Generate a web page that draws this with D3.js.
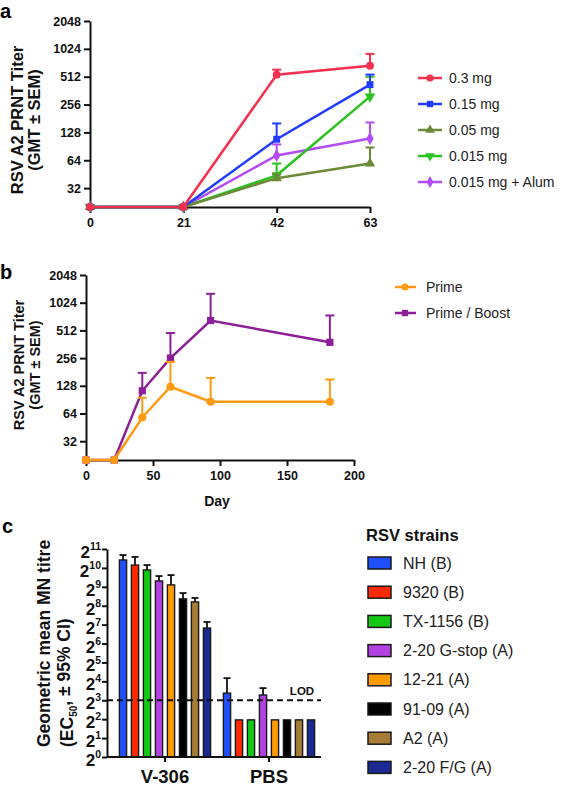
<!DOCTYPE html>
<html><head><meta charset="utf-8">
<script src="https://cdn.jsdelivr.net/npm/d3@7/dist/d3.min.js"></script>
<style>
body{margin:0;background:#fff;}
svg{display:block;font-family:"Liberation Sans",Arial,Helvetica,sans-serif;}
</style></head><body>
<svg id="chart" width="562" height="790"></svg>
<script>
// ---------- Panel a data ----------
const daysA = [0, 21, 42, 63];
const seriesA = ["0.3 mg", "0.15 mg", "0.05 mg", "0.015 mg", "0.015 mg + Alum"];
const gmtA_03 = [20, 20, 538, 673];
const errA_03 = [null, null, 610, 903];
const gmtA_015 = [20, 20, 108, 420];
const errA_015 = [null, null, 160, 540];
const gmtA_005 = [20, 20, 41, 59];
const errA_005 = [null, null, 45, 88];
const gmtA_0015 = [20, 20, 44, 312];
const errA_0015 = [null, null, 59, 512];
const gmtA_alum = [20, 20, 72, 110];
const errA_alum = [null, null, 95, 164];
const ticksA_y = [32, 64, 128, 256, 512, 1024, 2048];

// ---------- Panel b data ----------
const daysB = [0, 21, 42, 63, 93, 182];
const seriesB = ["Prime", "Prime / Boost"];
const gmtB_prime = [20, 20, 58, 125, 86, 86];
const errB_prime = [null, null, 95, 233, 156, 150];
const gmtB_boost = [20, 20, 113, 256, 656, 380];
const errB_boost = [null, null, 177, 480, 1280, 744];
const ticksB_x = [0, 50, 100, 150, 200];

// ---------- Panel c data ----------
const groupsC = ["V-306", "PBS"];
const strainsC = ["NH (B)", "9320 (B)", "TX-1156 (B)", "2-20 G-stop (A)", "12-21 (A)", "91-09 (A)", "A2 (A)", "2-20 F/G (A)"];
const meanV306 = [1370, 1136, 949, 635, 549, 329, 294, 113];
const upperV306 = [1640, 1530, 1136, 760, 787, 407, 340, 141];
const meanPBS = [10.4, 3.9, 3.9, 9.7, 3.9, 3.9, 3.9, 3.9];
const upperPBS = [18, null, null, 12.5, null, null, null, null];
const exponentsC = [0, 1, 2, 3, 4, 5, 6, 7, 8, 9, 10, 11];
const lodC = 8;

// ---------- styles ----------
const colorsA = ["#f4304f", "#1f3cff", "#6b8a36", "#2bc21e", "#b34cf2"];
const symbolsA = [d3.symbolCircle, d3.symbolSquare, d3.symbolTriangle, d3.symbolTriangle, d3.symbolDiamond];
const rotA = [0, 0, 0, 180, 0];
const colorsB = ["#ff9a12", "#8c1f98"];
const symbolsB = [d3.symbolCircle, d3.symbolSquare];
const colorsC = ["#1e50ff", "#ff2a00", "#12c812", "#b242e2", "#ff9a00", "#000000", "#a67c36", "#1a2a92"];
const FONT = '"Liberation Sans",Arial,Helvetica,sans-serif';

const svg = d3.select("#chart");

function styleAxis(g, fs) {
  g.selectAll("path.domain").attr("stroke", "#111").attr("stroke-width", 2);
  g.selectAll(".tick line").attr("stroke", "#111").attr("stroke-width", 2);
  g.selectAll(".tick text").attr("font-family", FONT).attr("font-weight", "bold")
    .attr("font-size", fs).attr("fill", "#111");
}

function drawLinePanel(opts) {
  const {x, y, days, gmts, errs, colors, symbols, rots, g} = opts;
  const line = d3.line().x((d, i) => x(days[i])).y(d => y(d));
  for (let s = gmts.length - 1; s >= 0; s--) {
    const col = colors[s];
    const sg = g.append("g");
    errs[s].forEach((e, i) => {
      if (e == null) return;
      const cx = x(days[i]);
      sg.append("line").attr("x1", cx).attr("x2", cx).attr("y1", y(gmts[s][i])).attr("y2", y(e))
        .attr("stroke", col).attr("stroke-width", 2);
      sg.append("line").attr("x1", cx - 4.5).attr("x2", cx + 4.5).attr("y1", y(e)).attr("y2", y(e))
        .attr("stroke", col).attr("stroke-width", 2);
    });
    sg.append("path").datum(gmts[s]).attr("d", line).attr("fill", "none")
      .attr("stroke", col).attr("stroke-width", 2.5);
    sg.selectAll("path.pt").data(gmts[s]).join("path").attr("class", "pt")
      .attr("d", d3.symbol().type(symbols[s]).size(opts.symSize || 48))
      .attr("transform", (d, i) => `translate(${x(days[i])},${y(d)}) rotate(${rots ? rots[s] : 0})`)
      .attr("fill", col);
  }
}

function yLabel(g, xs, cy, lines, fs) {
  lines.forEach((t, i) => {
    g.append("text").attr("transform", `translate(${xs[i]},${cy}) rotate(-90)`)
      .attr("text-anchor", "middle").attr("font-family", FONT).attr("font-weight", "bold")
      .attr("font-size", fs).attr("fill", "#111").text(t);
  });
}

// ================= Panel a =================
{
  const g = svg.append("g");
  const x = d3.scaleLinear().domain([0, 63]).range([90, 370]);
  const y = d3.scaleLog().base(2).domain([20, 2048]).range([207, 21]);
  g.append("g").attr("transform", "translate(0,207)")
    .call(d3.axisBottom(x).tickValues(daysA).tickFormat(d3.format("d")).tickSize(6).tickSizeOuter(0).tickPadding(5))
    .call(a => styleAxis(a, 12.5));
  g.append("g").attr("transform", "translate(90,0)")
    .call(d3.axisLeft(y).tickValues(ticksA_y).tickFormat(d3.format("d")).tickSize(6).tickSizeOuter(0).tickPadding(3))
    .call(a => styleAxis(a, 12.5));
  drawLinePanel({x, y, days: daysA, g,
    gmts: [gmtA_03, gmtA_015, gmtA_005, gmtA_0015, gmtA_alum],
    errs: [errA_03, errA_015, errA_005, errA_0015, errA_alum],
    colors: colorsA, symbols: symbolsA, rots: rotA});
  yLabel(g, [23, 40], 120, ["RSV A2 PRNT Titer", "(GMT ± SEM)"], 16.5);
  g.append("text").attr("x", 0).attr("y", 18).attr("font-family", FONT).attr("font-weight", "bold")
    .attr("font-size", 20).text("a");
  const lg = g.append("g");
  seriesA.forEach((s, i) => {
    const ly = 78 + i * 26;
    lg.append("line").attr("x1", 418).attr("x2", 442).attr("y1", ly).attr("y2", ly)
      .attr("stroke", colorsA[i]).attr("stroke-width", 2.5);
    lg.append("path").attr("d", d3.symbol().type(symbolsA[i]).size(40))
      .attr("transform", `translate(430,${ly}) rotate(${rotA[i]})`).attr("fill", colorsA[i]);
    lg.append("text").attr("x", 449).attr("y", ly + 5).attr("font-family", FONT)
      .attr("font-size", 14).attr("fill", "#222").text(s);
  });
}

// ================= Panel b =================
{
  const g = svg.append("g");
  const x = d3.scaleLinear().domain([0, 200]).range([86, 354]);
  const y = d3.scaleLog().base(2).domain([20, 2048]).range([460, 275]);
  g.append("g").attr("transform", "translate(0,460)")
    .call(d3.axisBottom(x).tickValues(ticksB_x).tickFormat(d3.format("d")).tickSize(6).tickSizeOuter(0).tickPadding(5))
    .call(a => styleAxis(a, 12.5));
  g.append("g").attr("transform", "translate(86,0)")
    .call(d3.axisLeft(y).tickValues(ticksA_y).tickFormat(d3.format("d")).tickSize(6).tickSizeOuter(0).tickPadding(3))
    .call(a => styleAxis(a, 12.5));
  drawLinePanel({x, y, days: daysB, g,
    gmts: [gmtB_prime, gmtB_boost], errs: [errB_prime, errB_boost],
    colors: colorsB, symbols: symbolsB, rots: [0, 0], symSize: 52});
  yLabel(g, [24, 40], 365, ["RSV A2  PRNT Titer", "(GMT ± SEM)"], 14.5);
  g.append("text").attr("x", 0).attr("y", 279).attr("font-family", FONT).attr("font-weight", "bold")
    .attr("font-size", 20).text("b");
  g.append("text").attr("x", 217).attr("y", 506).attr("text-anchor", "middle").attr("font-family", FONT)
    .attr("font-weight", "bold").attr("font-size", 14).attr("fill", "#111").text("Day");
  const lg = g.append("g");
  seriesB.forEach((s, i) => {
    const ly = 287 + i * 26;
    lg.append("line").attr("x1", 395).attr("x2", 416).attr("y1", ly).attr("y2", ly)
      .attr("stroke", colorsB[i]).attr("stroke-width", 2.5);
    lg.append("path").attr("d", d3.symbol().type(symbolsB[i]).size(40))
      .attr("transform", `translate(405,${ly})`).attr("fill", colorsB[i]);
    lg.append("text").attr("x", 426).attr("y", ly + 5).attr("font-family", FONT)
      .attr("font-size", 14).attr("fill", "#222").text(s);
  });
}

// ================= Panel c =================
{
  const g = svg.append("g");
  const y = d3.scaleLog().base(2).domain([1, 2048]).range([757, 549]);
  const xg = d3.scaleBand().domain(groupsC).range([117, 317]).paddingInner(8 / 104).paddingOuter(0);
  const xs = d3.scaleBand().domain(strainsC).range([0, xg.bandwidth()]).paddingInner(0.4).paddingOuter(0.2);
  const dataC = {"V-306": [meanV306, upperV306], "PBS": [meanPBS, upperPBS]};

  groupsC.forEach(gr => {
    const [means, ups] = dataC[gr];
    const gg = g.append("g").attr("transform", `translate(${xg(gr)},0)`);
    strainsC.forEach((s, i) => {
      const bx = xs(s), bw = xs.bandwidth(), cx = bx + bw / 2;
      if (ups[i] != null) {
        gg.append("line").attr("x1", cx).attr("x2", cx).attr("y1", y(means[i])).attr("y2", y(ups[i]))
          .attr("stroke", "#111").attr("stroke-width", 1.8);
        gg.append("line").attr("x1", cx - 3.5).attr("x2", cx + 3.5).attr("y1", y(ups[i])).attr("y2", y(ups[i]))
          .attr("stroke", "#111").attr("stroke-width", 1.8);
      }
      gg.append("rect").attr("x", bx).attr("width", bw).attr("y", y(means[i]))
        .attr("height", 757 - y(means[i])).attr("fill", colorsC[i]).attr("stroke", "#1a1a1a").attr("stroke-width", 1.4);
    });
  });

  g.append("line").attr("x1", 107).attr("x2", 321).attr("y1", y(lodC)).attr("y2", y(lodC))
    .attr("stroke", "#111").attr("stroke-width", 2).attr("stroke-dasharray", "6,4");
  g.append("text").attr("x", 302).attr("y", y(lodC) - 5).attr("text-anchor", "middle").attr("font-family", FONT)
    .attr("font-weight", "bold").attr("font-size", 11.5).attr("fill", "#111").text("LOD");

  const xa = g.append("g").attr("transform", "translate(0,757)")
    .call(d3.axisBottom(xg).tickSize(5).tickSizeOuter(0).tickPadding(3));
  xa.select("path.domain").attr("d", "M107,0H321");
  styleAxis(xa, 18.5);
  xa.selectAll(".tick text").attr("dy", "0.95em");

  const ya = g.append("g").attr("transform", "translate(107,0)")
    .call(d3.axisLeft(y).tickValues(exponentsC.map(e => Math.pow(2, e))).tickFormat("").tickSize(5).tickSizeOuter(0));
  styleAxis(ya, 17);
  ya.selectAll(".tick").each(function(d) {
    const t = d3.select(this).select("text");
    t.attr("x", -6).attr("dy", "0.5em").attr("text-anchor", "end").text(null);
    t.append("tspan").text("2");
    t.append("tspan").attr("font-size", 10.5).attr("dy", "-0.75em").text(String(Math.round(Math.log2(d))));
  });

  g.append("text").attr("transform", "translate(50,747) rotate(-90)").attr("text-anchor", "start")
    .attr("font-family", FONT).attr("font-weight", "bold").attr("font-size", 17.5).attr("fill", "#111")
    .text("Geometric mean MN titre");
  const lab2 = g.append("text").attr("transform", "translate(73,747) rotate(-90)").attr("text-anchor", "start")
    .attr("font-family", FONT).attr("font-weight", "bold").attr("font-size", 17.5).attr("fill", "#111");
  lab2.append("tspan").text("(EC");
  lab2.append("tspan").attr("font-size", 10).attr("dy", "0.35em").text("50");
  lab2.append("tspan").attr("dy", "-0.35em").text(", ± 95% CI)");

  g.append("text").attr("x", 2).attr("y", 533).attr("font-family", FONT).attr("font-weight", "bold")
    .attr("font-size", 20).text("c");

  g.append("text").attr("x", 366).attr("y", 541).attr("font-family", FONT).attr("font-weight", "bold")
    .attr("font-size", 16.5).attr("fill", "#111").text("RSV strains");
  strainsC.forEach((s, i) => {
    const ly = 563 + i * 29.2;
    g.append("rect").attr("x", 368).attr("y", ly - 6).attr("width", 23).attr("height", 12)
      .attr("fill", colorsC[i]).attr("stroke", "#1a1a1a").attr("stroke-width", 1.5);
    g.append("text").attr("x", 403).attr("y", ly + 5.5).attr("font-family", FONT)
      .attr("font-size", 16).attr("fill", "#222").text(s);
  });
}
</script>
</body></html>
